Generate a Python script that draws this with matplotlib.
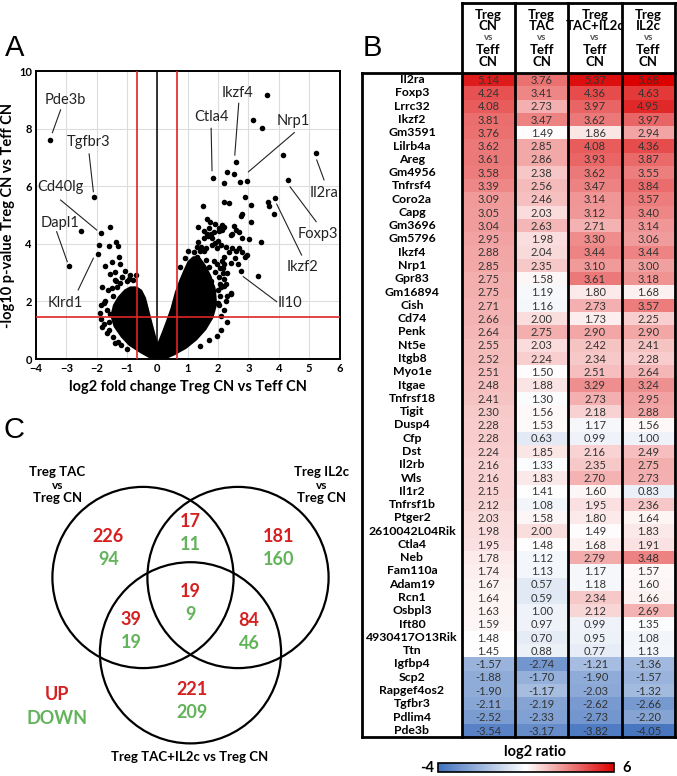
import matplotlib
matplotlib.use("Agg")
import matplotlib.pyplot as plt
import numpy as np
from matplotlib.colors import LinearSegmentedColormap, TwoSlopeNorm, Normalize
from matplotlib.patches import Circle
import matplotlib.colorbar as mcolorbar

plt.rcParams['font.family'] = ['Lato', 'DejaVu Sans']

# ---------------- DATA ----------------
# Panel A: volcano plot (log2 FC, -log10 p)
volcano_x = [-3.53, -2.10, -2.51, -2.90, -1.87, -1.55, -1.94, -1.60, -1.97, -1.35, -1.31,
             -1.72, -1.50, -1.28, -1.22, -1.55, -1.39, -1.06, -0.89, -0.95, -1.00,
             -1.83, -1.64, -1.33, -1.22, -1.45, -1.86, -1.72, -1.55, -1.65,
             -1.86, -1.83, -1.67, -1.47, -1.60, -1.30, -1.15, -1.75, -1.40,
             -1.60, -1.75, -1.50, -1.35, -1.15, -0.80, -0.70, -1.90, -1.20, -1.00, -1.40,
             5.21, 3.62, 3.15, 3.46, 4.14, 4.30, 2.58, 1.83, 2.29, 2.54, 2.21, 2.71, 2.95,
             1.49, 2.21, 2.36, 2.90, 3.10, 3.64, 3.68, 3.89, 3.83, 2.75, 2.80, 3.10,
             1.62, 1.73, 2.06, 2.21, 2.03, 2.14, 2.47, 2.41, 2.58, 1.53, 1.64, 1.53, 1.66,
             1.75, 1.80, 1.91, 2.02, 2.13, 2.52, 2.79, 3.01, 3.42, 1.80, 1.97, 1.91,
             2.47, 2.58, 2.68, 2.79, 2.96, 2.90, 2.19, 2.41, 2.17, 2.13, 2.76, 3.33,
             2.19, 2.10, 2.06, 2.41, 2.30, 2.02, 2.08, 2.00, 1.20, 1.31, 1.91, 2.02,
             1.75, 1.80, 2.41, 1.45, 1.60, 1.70, 1.55, 1.40, 1.85, 2.25,
             2.10, 1.95, 1.70, 2.20, 2.25, 1.00, 0.90, 0.75, 1.55, 1.30, 2.30, 1.40, 2.05, 2.15,
             1.35, 1.45, 1.60, 1.70, 1.85, 2.00, 2.10, 2.25, 2.35, 2.20, 2.30, 2.55, 2.65,
             1.95, 2.05, 1.65, 2.00, 2.20, 1.35, 2.70]
volcano_y = [7.61, 5.62, 4.45, 3.22, 4.37, 4.60, 3.95, 3.92, 3.66, 4.07, 3.94,
             3.24, 3.36, 3.53, 3.30, 2.95, 3.01, 3.07, 2.90, 2.78, 2.70,
             2.49, 2.38, 2.49, 2.65, 2.20, 1.86, 2.03, 1.57, 1.70,
             1.38, 1.11, 0.89, 0.77, 1.30, 0.60, 2.85, 1.95, 2.75,
             1.00, 1.20, 2.45, 2.70, 2.85, 2.75, 2.90, 1.60, 0.50, 0.35, 0.55,
             7.17, 9.16, 8.31, 8.01, 7.08, 6.20, 6.83, 6.29, 6.49, 6.44, 6.10, 6.14, 6.17,
             5.32, 5.46, 5.42, 5.62, 5.36, 5.46, 5.31, 5.60, 5.04, 4.97, 5.03, 4.74,
             4.85, 4.74, 4.51, 4.60, 4.43, 4.49, 4.33, 4.32, 4.48, 4.45, 4.34, 4.20, 4.28,
             4.34, 4.21, 4.68, 4.54, 4.65, 4.62, 4.20, 4.18, 4.05, 3.96, 3.85, 4.02,
             3.87, 3.76, 3.87, 3.70, 3.62, 3.53, 3.55, 3.32, 3.16, 3.41, 3.05, 2.89,
             2.78, 2.49, 2.20, 2.28, 2.20, 1.86, 1.49, 1.93, 3.70, 3.53, 3.01, 2.84,
             2.72, 2.49, 2.26, 3.30, 3.45, 3.20, 3.10, 3.75, 3.40, 2.60,
             1.00, 0.80, 0.65, 1.70, 2.00, 3.75, 3.50, 3.20, 3.75, 3.90, 1.30, 0.45, 2.60, 3.00,
             4.05, 3.90, 3.85, 4.55, 4.40, 4.10, 3.95, 3.90, 3.70, 3.30, 3.00, 3.50, 3.30,
             3.30, 3.15, 2.90, 2.40, 2.55, 4.60, 4.40]
# dense core of the volcano (outline of the solid point cloud)
core_x = [0.0, -0.25, -0.55, -0.9, -1.15, -1.38, -1.48, -1.4, -1.25, -1.05, -0.88, -0.7, -0.56,
          -0.44, -0.33, -0.22, -0.12, -0.04, 0.0,
          0.08, 0.2, 0.35, 0.5, 0.64, 0.78, 0.92, 1.05, 1.2,
          1.38, 1.55, 1.72, 1.86, 1.9, 1.78, 1.55, 1.25, 0.92, 0.55, 0.25]
core_y = [0.0, 0.1, 0.28, 0.52, 0.8, 1.15, 1.5, 1.85, 2.12, 2.35, 2.45, 2.45, 2.35,
          2.1, 1.65, 1.2, 0.8, 0.5, 0.42,
          0.57, 0.88, 1.3, 1.75, 2.3, 2.7, 3.05, 3.35, 3.5,
          3.45, 3.2, 2.85, 2.4, 1.9, 1.45, 1.05, 0.7, 0.42, 0.2, 0.06]
fc_cutoff_low, fc_cutoff_high, p_cutoff = -0.68, 0.66, 1.46
annot_genes = ["Pde3b", "Tgfbr3", "Cd40lg", "Dapl1", "Klrd1", "Ctla4", "Ikzf4", "Nrp1",
               "Il2ra", "Foxp3", "Ikzf2", "Il10"]
annot_point_x = [-3.46, -2.11, -2.00, -2.97, -2.11, 1.80, 2.55, 3.00, 5.49, 4.37, 3.93, 2.83]
annot_point_y = [7.86, 5.81, 4.48, 3.38, 3.50, 6.54, 7.08, 6.50, 6.22, 5.98, 5.38, 2.86]
annot_line_x = [-3.19, -2.25, -3.19, -3.32, -2.61, 1.77, 2.68, 4.51, 5.25, 5.23, 4.75, 3.93]
annot_line_y = [8.65, 7.12, 5.52, 4.42, 2.40, 8.01, 8.88, 7.86, 6.91, 4.77, 3.61, 1.99]
annot_text_x = [-3.04, -2.28, -3.18, -3.21, -3.04, 1.77, 2.63, 4.48, 5.49, 5.30, 4.79, 4.37]
annot_text_y = [8.99, 7.55, 5.98, 4.71, 1.95, 8.41, 9.25, 8.26, 5.77, 4.33, 3.20, 1.95]

# Panel B: heatmap of log2 ratios
genes = ["Il2ra", "Foxp3", "Lrrc32", "Ikzf2", "Gm3591", "Lilrb4a", "Areg", "Gm4956", "Tnfrsf4",
         "Coro2a", "Capg", "Gm3696", "Gm5796", "Ikzf4", "Nrp1", "Gpr83", "Gm16894", "Cish",
         "Cd74", "Penk", "Nt5e", "Itgb8", "Myo1e", "Itgae", "Tnfrsf18", "Tigit", "Dusp4",
         "Cfp", "Dst", "Il2rb", "Wls", "Il1r2", "Tnfrsf1b", "Ptger2", "2610042L04Rik", "Ctla4",
         "Neb", "Fam110a", "Adam19", "Rcn1", "Osbpl3", "Ift80", "4930417O13Rik", "Ttn",
         "Igfbp4", "Scp2", "Rapgef4os2", "Tgfbr3", "Pdlim4", "Pde3b"]
treg_cn = [5.14, 4.24, 4.08, 3.81, 3.76, 3.62, 3.61, 3.58, 3.39, 3.09, 3.05, 3.04, 2.95, 2.88,
           2.85, 2.75, 2.75, 2.71, 2.66, 2.64, 2.55, 2.52, 2.51, 2.48, 2.41, 2.30, 2.28, 2.28,
           2.24, 2.16, 2.16, 2.15, 2.12, 2.03, 1.98, 1.95, 1.78, 1.74, 1.67, 1.64, 1.63, 1.59,
           1.48, 1.45, -1.57, -1.88, -1.90, -2.11, -2.52, -3.54]
treg_tac = [3.76, 3.41, 2.73, 3.47, 1.49, 2.85, 2.86, 2.38, 2.56, 2.46, 2.03, 2.63, 1.98, 2.04,
            2.35, 1.58, 1.19, 1.16, 2.00, 2.75, 2.03, 2.24, 1.50, 1.88, 1.30, 1.56, 1.53, 0.63,
            1.85, 1.33, 1.83, 1.41, 1.08, 1.58, 2.00, 1.48, 1.12, 1.13, 0.57, 0.59, 1.00, 0.97,
            0.70, 0.88, -2.74, -1.70, -1.17, -2.19, -2.33, -3.17]
treg_tac_il2c = [5.37, 4.36, 3.97, 3.62, 1.86, 4.08, 3.93, 3.62, 3.47, 3.14, 3.12, 2.71, 3.30,
                 3.44, 3.10, 3.61, 1.80, 2.73, 1.73, 2.90, 2.42, 2.34, 2.51, 3.29, 2.73, 2.18,
                 1.17, 0.99, 2.16, 2.35, 2.70, 1.60, 1.95, 1.80, 1.49, 1.68, 2.79, 1.17, 1.18,
                 2.34, 2.12, 0.99, 0.95, 0.77, -1.21, -1.90, -2.03, -2.62, -2.73, -3.82]
treg_il2c = [5.68, 4.63, 4.95, 3.97, 2.94, 4.36, 3.87, 3.55, 3.84, 3.57, 3.40, 3.14, 3.06, 3.44,
             3.00, 3.18, 1.68, 3.57, 2.25, 2.90, 2.41, 2.28, 2.64, 3.24, 2.95, 2.88, 1.56, 1.00,
             2.49, 2.75, 2.73, 0.83, 2.36, 1.64, 1.83, 1.91, 3.48, 1.57, 1.60, 1.66, 2.69, 1.35,
             1.08, 1.13, -1.36, -1.57, -1.32, -2.66, -2.20, -4.05]
col_group = ["CN", "TAC", "TAC+IL2c", "IL2c"]
colorbar_min, colorbar_max = -4, 6

# Panel C: Venn counts (regions: TAC only, TAC&IL2c, IL2c only, TAC&TAC+IL2c, all, IL2c&TAC+IL2c, TAC+IL2c only)
venn_up = [226, 17, 181, 39, 19, 84, 221]
venn_down = [94, 11, 160, 19, 9, 46, 209]
venn_sets = ["Treg TAC\nvs\nTreg CN", "Treg IL2c\nvs\nTreg CN", "Treg TAC+IL2c vs Treg CN"]

# ---------------- FIGURE ----------------
W, H = 677, 776
fig = plt.figure(figsize=(W / 100, H / 100), dpi=100)


def fx(px):
    return px / W


def fy(py):
    return 1 - py / H


RED = '#d42020'
GREEN = '#62b35a'

# ---- Panel A ----
axA = fig.add_axes([fx(36), fy(359), (339.5 - 36) / W, (359 - 71) / H])
axA.set_xlim(-4, 6)
axA.set_ylim(0, 10)
axA.set_xticks(range(-4, 7))
axA.set_yticks(range(0, 11, 2))
axA.grid(True, color='#dcdcdc', lw=0.8)
axA.set_axisbelow(True)
axA.tick_params(length=0, pad=3, labelsize=8)
for lab in axA.get_xticklabels() + axA.get_yticklabels():
    lab.set_fontweight('bold')
for s in axA.spines.values():
    s.set_linewidth(1.4)
axA.axvline(0, color='black', lw=1.1, zorder=2)
axA.fill(core_x, core_y, facecolor='black', edgecolor='black', lw=3, joinstyle='round', zorder=3)
axA.scatter(volcano_x, volcano_y, s=16, c='black', lw=0, zorder=3)
axA.axvline(fc_cutoff_low, color='#e02424', lw=1.2, zorder=4)
axA.axvline(fc_cutoff_high, color='#e02424', lw=1.2, zorder=4)
axA.axhline(p_cutoff, color='#e02424', lw=1.2, zorder=4)
for i, g in enumerate(annot_genes):
    axA.plot([annot_line_x[i], annot_point_x[i]], [annot_line_y[i], annot_point_y[i]],
             color='#222222', lw=0.8, zorder=3)
    axA.text(annot_text_x[i], annot_text_y[i], g, ha='center', va='center', fontsize=10.5,
             color='#222222', zorder=5)
axA.set_xlabel("log2 fold change Treg CN vs Teff CN", fontsize=10.5, fontweight='bold', labelpad=4)
axA.set_ylabel("-log10 p-value Treg CN vs Teff CN", fontsize=10.5, fontweight='bold', labelpad=3)

# ---- Panel labels ----
for lab, (px, py) in zip("ABC", [(15, 47.5), (372, 47.5), (14, 430)]):
    fig.text(fx(px), fy(py), lab, fontsize=21, ha='center', va='center',
             family=['Liberation Sans', 'DejaVu Sans'])

# ---- Panel B: heatmap ----
cmap = LinearSegmentedColormap.from_list('bwr_x', ['#4171bd', '#ffffff', '#dc0000'])
norm = TwoSlopeNorm(vmin=-4.3, vcenter=1.45, vmax=5.6)
data = np.array([treg_cn, treg_tac, treg_tac_il2c, treg_il2c]).T
nrow, ncol = data.shape
top_px, bot_px = 73, 737
left_px, right_px = 461.7, 675
rowh = (bot_px - top_px) / nrow
colw = (right_px - left_px) / ncol
axB = fig.add_axes([fx(left_px), fy(bot_px), (right_px - left_px) / W, (bot_px - top_px) / H])
axB.imshow(data, cmap=cmap, norm=norm, aspect='auto', extent=(0, ncol, nrow, 0),
           interpolation='nearest')
axB.set_xlim(0, ncol)
axB.set_ylim(nrow, 0)
axB.axis('off')
for i in range(nrow):
    for j in range(ncol):
        axB.text(j + 0.5, i + 0.55, f"{data[i, j]:.2f}", ha='center', va='center',
                 fontsize=8, color='#333333')
    axB.text((412 - left_px) / colw, i + 0.5, genes[i], ha='center', va='center',
             fontsize=8.8, fontweight='bold', clip_on=False)
head_top = (3 - top_px) / rowh
gene_left = (361.7 - left_px) / colw
lw_box = 2.0
for j in range(ncol + 1):
    axB.plot([j, j], [head_top, nrow], color='black', lw=lw_box, clip_on=False,
             solid_capstyle='projecting')
axB.plot([0, ncol], [head_top, head_top], color='black', lw=lw_box, clip_on=False,
         solid_capstyle='projecting')
for yy in (0, nrow):
    axB.plot([gene_left, ncol], [yy, yy], color='black', lw=lw_box, clip_on=False,
             solid_capstyle='projecting')
axB.plot([gene_left, gene_left], [0, nrow], color='black', lw=lw_box, clip_on=False,
         solid_capstyle='projecting')
header_rows_px = [15, 26.5, 38, 50, 62]
for j, grp in enumerate(col_group):
    lines = ["Treg", grp, "vs", "Teff", "CN"]
    for k, t in enumerate(lines):
        yy = (header_rows_px[k] - top_px) / rowh
        if t == "vs":
            axB.text(j + 0.5, yy, t, ha='center', va='center', fontsize=7,
                     color='#555555', fontweight='bold', clip_on=False)
        else:
            axB.text(j + 0.5, yy, t, ha='center', va='center', fontsize=9.5,
                     fontweight='bold', clip_on=False)

# colorbar
cax = fig.add_axes([fx(438), fy(772), (614 - 438) / W, 9 / H])
cb = mcolorbar.ColorbarBase(cax, cmap=cmap, norm=Normalize(colorbar_min, colorbar_max),
                            orientation='horizontal')
cb.set_ticks([])
cb.outline.set_linewidth(1.2)
fig.text(fx(535), fy(752), "log2 ratio", ha='center', va='center', fontsize=10.5, fontweight='bold')
fig.text(fx(427), fy(767.5), str(colorbar_min), ha='center', va='center', fontsize=10.5,
         fontweight='bold')
fig.text(fx(627), fy(767.5), str(colorbar_max), ha='center', va='center', fontsize=10.5,
         fontweight='bold')

# ---- Panel C: Venn ----
axC = fig.add_axes([0, 0, 360 / W, (776 - 440) / H])
axC.set_xlim(0, 360)
axC.set_ylim(776, 440)
axC.axis('off')
circle_centers = [(143, 577.5), (238, 577.5), (190.5, 652.8)]
for (cx, cy) in circle_centers:
    axC.add_patch(Circle((cx, cy), 90.6, fill=False, ec='black', lw=1.6))
region_pos = [(108.3, 536.7), (190, 521.7), (278.3, 536.7), (131, 619.3), (190.7, 591.7),
              (249, 620.7), (191.7, 689.3)]
for (px, py), u, d in zip(region_pos, venn_up, venn_down):
    axC.text(px, py, str(u), ha='center', va='center', fontsize=13, fontweight='bold', color=RED)
    axC.text(px, py + 23, str(d), ha='center', va='center', fontsize=13, fontweight='bold',
             color=GREEN)
axC.text(57.3, 694, "UP", ha='center', va='center', fontsize=13, fontweight='bold', color=RED)
axC.text(57.3, 718, "DOWN", ha='center', va='center', fontsize=13, fontweight='bold', color=GREEN)
for cxp, name in zip([57.3, 321.7], venn_sets[:2]):
    l1, l2, l3 = name.split("\n")
    axC.text(cxp, 471.7, l1, ha='center', va='center', fontsize=9.5, fontweight='bold')
    axC.text(cxp, 485.2, l2, ha='center', va='center', fontsize=8.5, fontweight='bold')
    axC.text(cxp, 497.7, l3, ha='center', va='center', fontsize=9.5, fontweight='bold')
axC.text(190, 756.7, venn_sets[2], ha='center', va='center', fontsize=9.5, fontweight='bold')

fig.savefig("out.png", dpi=100)
